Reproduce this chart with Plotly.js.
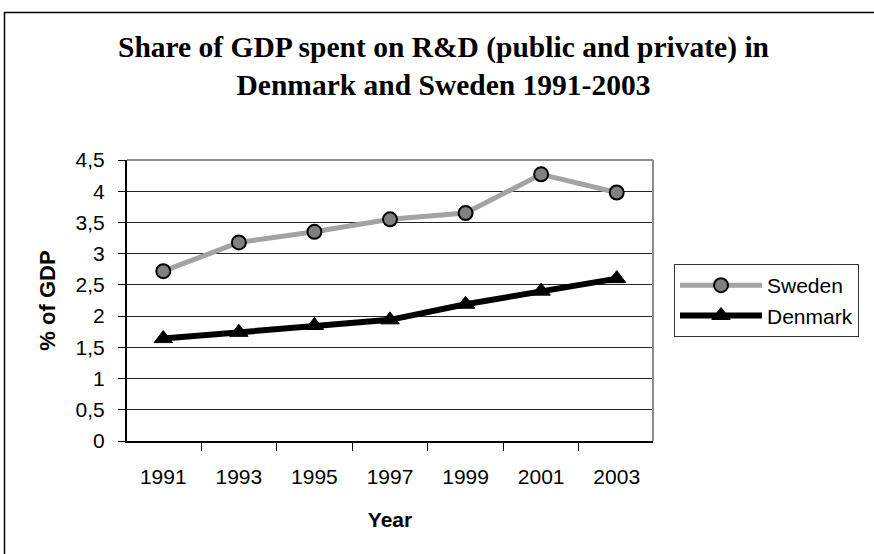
<!DOCTYPE html>
<html>
<head>
<meta charset="utf-8">
<script src="https://cdn.plot.ly/plotly-3.0.1.min.js"></script>
<style>html,body{margin:0;padding:0;background:#fff;}#chart{width:874px;height:554px;}</style>
</head>
<body>
<div id="chart"></div>
<script>
const years = ['1991', '1993', '1995', '1997', '1999', '2001', '2003'];
const sweden = [2.72, 3.18, 3.35, 3.55, 3.65, 4.27, 3.98];
const denmark = [1.64, 1.74, 1.85, 1.94, 2.19, 2.40, 2.60];
const yTicks = [0, 0.5, 1, 1.5, 2, 2.5, 3, 3.5, 4, 4.5];
const titleText = 'Share of GDP spent on R&D (public and private) in<br>Denmark and Sweden 1991-2003';

const traces = [
  {
    x: years, y: sweden, name: 'Sweden', type: 'scatter', mode: 'lines+markers',
    line: {color: '#a3a3a3', width: 5},
    marker: {symbol: 'circle', size: 14, color: '#808080', line: {color: '#000', width: 2}}
  },
  {
    x: years, y: denmark, name: 'Denmark', type: 'scatter', mode: 'lines+markers',
    line: {color: '#000', width: 6},
    marker: {symbol: 'triangle-up', size: 16, color: '#000', line: {color: '#000', width: 1}}
  }
];

const L = 127, R = 653, T = 160, B = 441, W = 874, H = 554;
const pw = R - L, ph = B - T;
const px = v => (v - L) / pw;
const py = v => (B - v) / ph;

const layout = {
  width: W, height: H,
  margin: {l: L, r: W - R, t: T, b: H - B, pad: 0},
  paper_bgcolor: '#fff', plot_bgcolor: '#fff',
  separators: ',.',
  showlegend: true,
  font: {family: 'Liberation Sans, Arial, sans-serif', color: '#000', size: 21},
  annotations: [{
    text: titleText, showarrow: false,
    xref: 'paper', yref: 'paper', x: px(443), y: py(66),
    xanchor: 'center', yanchor: 'middle', align: 'center',
    font: {family: 'Liberation Serif, Times New Roman, serif', size: 29.5, color: '#000', weight: 'bold'}
  }],
  xaxis: {
    type: 'category',
    tickson: 'boundaries',
    ticks: 'outside', ticklen: 8, tickcolor: '#000', tickwidth: 1,
    showline: true, linecolor: '#000', linewidth: 2,
    showgrid: false, zeroline: false,
    ticklabelstandoff: 16,
    tickfont: {size: 21},
    title: {text: 'Year', font: {size: 21, weight: 'bold'}, standoff: 25}
  },
  yaxis: {
    range: [0, 4.5],
    tickvals: yTicks,
    ticks: 'outside', ticklen: 7, tickcolor: '#000', tickwidth: 1,
    showline: true, linecolor: '#000', linewidth: 2,
    showgrid: true, gridcolor: '#222', gridwidth: 1,
    zeroline: false,
    ticklabelstandoff: 9,
    tickfont: {size: 21},
    title: {text: '% of GDP', font: {size: 22, weight: 'bold'}, standoff: 14}
  },
  legend: {
    x: px(674), xanchor: 'left', y: py(264), yanchor: 'top',
    bordercolor: '#333', borderwidth: 1, bgcolor: '#fff',
    font: {size: 21}, itemwidth: 82, tracegroupgap: 0,
    traceorder: 'normal'
  },
  shapes: [
    {type: 'line', xref: 'paper', yref: 'paper', x0: 0, x1: 1, y0: 1, y1: 1, line: {color: '#8c8c8c', width: 2}},
    {type: 'line', xref: 'paper', yref: 'paper', x0: 1, x1: 1, y0: 0, y1: 1, line: {color: '#8c8c8c', width: 2}},
    {type: 'rect', xref: 'paper', yref: 'paper', x0: px(4.5), x1: px(900), y0: py(12.5), y1: py(600), line: {color: '#000', width: 1.5}, layer: 'below'}
  ]
};

Plotly.newPlot('chart', traces, layout, {displayModeBar: false, staticPlot: true});
</script>
</body>
</html>
